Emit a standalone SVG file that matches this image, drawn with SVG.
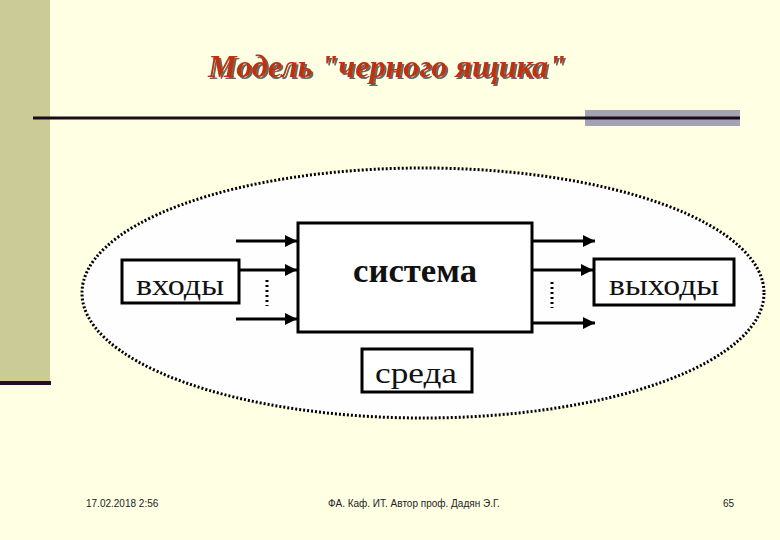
<svg xmlns="http://www.w3.org/2000/svg" width="780" height="540" viewBox="0 0 780 540">
<defs>
<style>
.box{fill:#ffffff;stroke:#000;stroke-width:3}
.lbl{font-family:"Liberation Serif","Times New Roman",serif;fill:#111;text-anchor:middle}
.conn line{stroke:#000;stroke-width:3}
.dots{stroke:#000;stroke-width:3;stroke-dasharray:2 3}
.foot{font-family:"Liberation Sans",Arial,sans-serif;font-size:10px;fill:#222}
</style>
<filter id="shadow" x="-5%" y="-20%" width="110%" height="150%">
<feDropShadow dx="2" dy="2" stdDeviation="0.3" flood-color="#555" flood-opacity="0.9"/>
</filter>
<marker id="ah" viewBox="0 0 10 10" refX="10" refY="5" markerWidth="4" markerHeight="4" orient="auto" markerUnits="strokeWidth">
<path d="M0,0 L10,5 L0,10 z" fill="#000"/>
</marker>
</defs>
<rect width="780" height="540" fill="#FFFFE3"/>
<rect x="0" y="0" width="50" height="382" fill="#CBCB98"/>
<rect x="0" y="381" width="51" height="4" fill="#2A0A2A"/>
<g id="title">
<text x="387" y="77" font-family="'Liberation Serif','Times New Roman',serif" font-size="31" font-weight="bold" font-style="italic" fill="#C0300E" text-anchor="middle" textLength="358" lengthAdjust="spacingAndGlyphs" filter="url(#shadow)">Модель "черного ящика"</text>
</g>
<rect x="585" y="110" width="155" height="16" fill="#A3A3B4"/>
<line x1="33" y1="118" x2="740" y2="118" stroke="#1A0A1A" stroke-width="3"/>
<g id="environment">
<ellipse cx="423" cy="293" rx="341" ry="125" fill="#FEFEFE" stroke="#000" stroke-width="3" stroke-dasharray="2 2"/>
</g>
<g id="system">
<rect class="box" x="298" y="223" width="234" height="109"/>
<text class="lbl" x="415" y="282" font-size="34" font-weight="bold" textLength="124" lengthAdjust="spacingAndGlyphs">система</text>
</g>
<g id="inputs">
<rect class="box" x="122" y="260" width="117" height="43"/>
<text class="lbl" x="180" y="295" font-size="30" textLength="88" lengthAdjust="spacingAndGlyphs">входы</text>
</g>
<g id="outputs">
<rect class="box" x="594" y="259" width="140" height="46"/>
<text class="lbl" x="664" y="295" font-size="30" textLength="110" lengthAdjust="spacingAndGlyphs">выходы</text>
</g>
<g id="medium">
<rect class="box" x="362" y="349" width="110" height="43"/>
<text class="lbl" x="416" y="383" font-size="30" textLength="82" lengthAdjust="spacingAndGlyphs">среда</text>
</g>
<g id="connectors" class="conn">
<line x1="236" y1="241" x2="297" y2="241" marker-end="url(#ah)"/>
<line x1="239" y1="270" x2="297" y2="270" marker-end="url(#ah)"/>
<line x1="236" y1="319" x2="297" y2="319" marker-end="url(#ah)"/>
<line x1="532" y1="241" x2="595" y2="241" marker-end="url(#ah)"/>
<line x1="532" y1="270" x2="593" y2="270" marker-end="url(#ah)"/>
<line x1="532" y1="323" x2="595" y2="323" marker-end="url(#ah)"/>
<line class="dots" x1="267" y1="280" x2="267" y2="306"/>
<line class="dots" x1="552" y1="282" x2="552" y2="308"/>
</g>
<text class="foot" x="86" y="507">17.02.2018 2:56</text>
<text class="foot" x="414" y="507" text-anchor="middle">ФА. Каф. ИТ. Автор проф. Дадян Э.Г.</text>
<text class="foot" x="723" y="507">65</text>
</svg>
